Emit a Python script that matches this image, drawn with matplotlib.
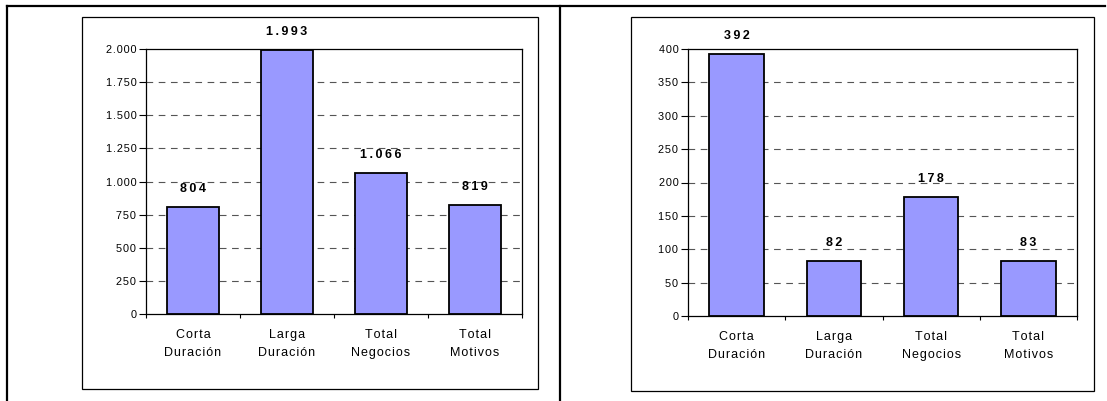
import matplotlib
matplotlib.use("Agg")
import matplotlib.pyplot as plt
from matplotlib.ticker import FuncFormatter, FixedLocator
from matplotlib.patches import Rectangle
from matplotlib.lines import Line2D
import numpy as np

# Data
categories = ["Corta\nDuración", "Larga\nDuración", "Total\nNegocios", "Total\nMotivos"]
left_values = [804, 1993, 1066, 819]
right_values = [392, 82, 178, 83]
left_ticks = [0, 250, 500, 750, 1000, 1250, 1500, 1750, 2000]
right_ticks = [0, 50, 100, 150, 200, 250, 300, 350, 400]

plt.rcParams['font.family'] = ['Liberation Sans', 'DejaVu Sans']

W, H = 1107, 401
fig = plt.figure(figsize=(W / 100, H / 100), dpi=100)


def fx(px):
    return px / W


def fy(py):
    return 1 - py / H


def spaced(s, sp="\u2009"):
    # the old Excel print has wide letter spacing, thin spaces imitate it
    return "\n".join(sp.join(line) for line in s.split("\n"))


def es_num(v):
    # thousands separator with a dot
    return f"{int(v):,}".replace(",", ".")


def draw_panel(rect, values, ticks):
    ax = fig.add_axes(rect)
    x = np.arange(len(values))
    ax.bar(x, values, width=0.56, color="#9999FF", edgecolor="black",
           linewidth=1.3, zorder=3)
    ax.set_xlim(-0.5, len(values) - 0.5)
    ax.set_ylim(ticks[0], ticks[-1])
    ax.set_yticks(ticks)
    ax.yaxis.set_major_formatter(FuncFormatter(lambda v, p: spaced(es_num(v), "\u200a")))
    ax.set_xticks(x)
    ax.set_xticklabels([spaced(c, "\u200a") for c in categories], fontsize=9,
                       linespacing=1.65)
    ax.xaxis.set_minor_locator(FixedLocator(np.arange(-0.5, len(values), 1.0)))
    ax.tick_params(axis="x", which="major", length=0, pad=11)
    ax.tick_params(axis="x", which="minor", length=3, width=0.8, direction="out")
    ax.tick_params(axis="y", length=5, width=0.8, direction="out", labelsize=7.8, pad=2)
    for t in ticks[1:-1]:
        ax.axhline(t, color="#555555", linewidth=0.8, dashes=(6, 5), zorder=1)
    for s in ax.spines.values():
        s.set_linewidth(0.9)
        s.set_color("black")
    for xi, v in zip(x, values):
        ax.annotate(spaced(es_num(v)), (xi, v), xytext=(0, 13), textcoords="offset points",
                    ha="center", va="center", fontsize=9, fontweight="bold",
                    annotation_clip=False, zorder=4)
    return ax


# left chart
draw_panel([fx(146), fy(314), fx(522) - fx(146), fy(49) - fy(314)],
           left_values, left_ticks)
# right chart
draw_panel([fx(688), fy(316), fx(1077) - fx(688), fy(49) - fy(316)],
           right_values, right_ticks)

# chart area boxes
for x0, y0, x1, y1 in [(82, 17, 538, 389), (631, 17, 1094, 391)]:
    fig.patches.append(Rectangle((fx(x0), fy(y1)), fx(x1) - fx(x0), fy(y0) - fy(y1),
                                 transform=fig.transFigure, fill=False,
                                 edgecolor="black", linewidth=0.9))

# outer table frame
for xs, ys in [((7, 1105), (6, 6)), ((7, 7), (6, 401)), ((560, 560), (6, 401))]:
    fig.lines.append(Line2D([fx(xs[0]), fx(xs[1])], [fy(ys[0]), fy(ys[1])],
                            transform=fig.transFigure, color="black", linewidth=1.6))

fig.savefig("out.png", dpi=100)
